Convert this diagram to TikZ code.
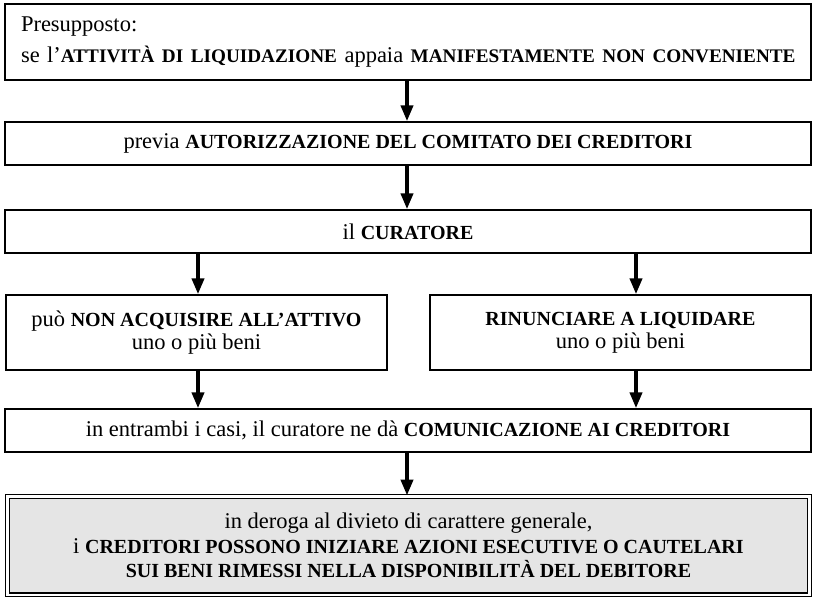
\documentclass[tikz,border=0pt]{standalone}
\usepackage{fontspec}
\setmainfont{Liberation Serif}
\usepackage{tikz}
\usetikzlibrary{shapes, arrows.meta, positioning, calc}

% bold key words are set a little smaller than the running text
\newcommand{\kw}[2][20]{{\fontsize{#1}{24}\selectfont\bfseries #2}}

\tikzset{
  box/.style={draw, line width=1.4pt, rectangle, inner sep=0pt, align=center,
    font=\fontsize{22.5}{23}\selectfont},
  wide/.style={box, minimum width=806pt, minimum height=43pt},
  half/.style={box, minimum width=381pt, minimum height=75pt},
  flow/.style={line width=3.8pt, -{Triangle[length=16pt, width=12pt]}}
}

\begin{document}
\begin{tikzpicture}[x=1pt, y=-1pt]
  \useasboundingbox (0, 0) rectangle (815, 598);

  \node[box, minimum width=806pt, minimum height=76pt, text width=774pt, inner xsep=16pt, align=left,
    font=\fontsize{22.5}{31}\selectfont] (presup) at (408, 42)
    {Presupposto:\\\mbox{se l'\kw[19.2]{ATTIVITÀ DI LIQUIDAZIONE} appaia \kw[19.2]{MANIFESTAMENTE NON CONVENIENTE}}};
  \node[wide] (autor) at (408, 143.5) {previa \kw{AUTORIZZAZIONE DEL COMITATO DEI CREDITORI}};
  \node[wide] (curat) at (408, 231.5) {il \kw{CURATORE}};
  \node[half] (nonacq) at (196.5, 332.5) {può \kw{NON ACQUISIRE ALL'ATTIVO}\\uno o più beni};
  \node[half] (rinun) at (620.5, 332.5) {\kw{RINUNCIARE A LIQUIDARE}\\uno o più beni};
  \node[wide] (comun) at (408, 430.5) {in entrambi i casi, il curatore ne dà \kw{COMUNICAZIONE AI CREDITORI}};
  \node[box, double, double distance=2.5pt, fill=gray!20, minimum width=802pt, minimum height=98.5pt,
    font=\fontsize{22.5}{24.5}\selectfont] (deroga) at (408.5, 545.5)
    {in deroga al divieto di carattere generale,\\
     i \kw{CREDITORI POSSONO INIZIARE AZIONI ESECUTIVE O CAUTELARI}\\
     \kw{SUI BENI RIMESSI NELLA DISPONIBILITÀ DEL DEBITORE}};

  \draw[flow] ([xshift=-1pt]presup.south) -- ([xshift=-1pt]autor.north);
  \draw[flow] ([xshift=-1pt]autor.south) -- ([xshift=-1pt]curat.north);
  \draw[flow] (nonacq.north |- curat.south) ++(1.5, 0) -- ([xshift=1.5pt]nonacq.north);
  \draw[flow] (rinun.north |- curat.south) ++(15.5, 0) -- ([xshift=15.5pt]rinun.north);
  \draw[flow] ([xshift=1.5pt]nonacq.south) -- ([xshift=1.5pt]nonacq.south |- comun.north);
  \draw[flow] ([xshift=15.5pt]rinun.south) -- ([xshift=15.5pt]rinun.south |- comun.north);
  \draw[flow] ([xshift=-1pt]comun.south) -- ([xshift=-1.5pt]deroga.north);
\end{tikzpicture}
\end{document}
